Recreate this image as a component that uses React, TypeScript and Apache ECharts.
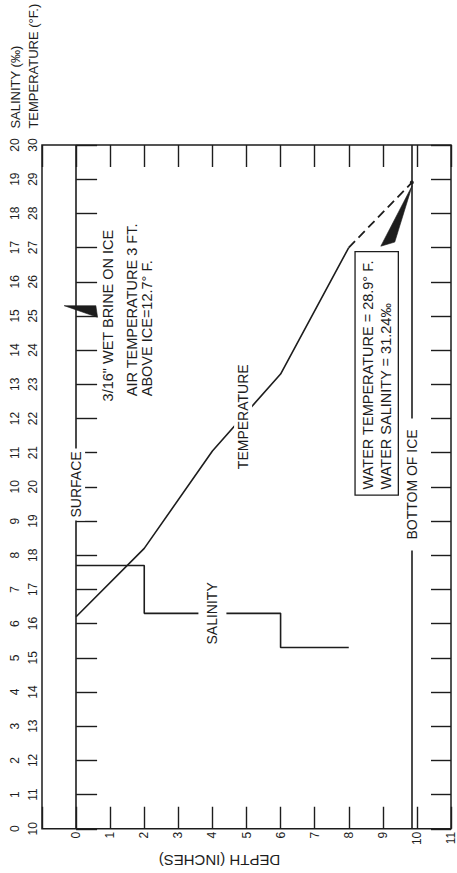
import React, { useEffect, useRef } from "react";
import * as echarts from "echarts";

// ---- data (depth in inches below the ice surface) ----
const temperatureDepths = [0, 2, 4, 6, 8];
const temperatureValues = [16.2, 18.2, 21.05, 23.3, 27.0]; // °F
const extrapolatedDepths = [8, 9.85];
const extrapolatedTemperatures = [27.0, 28.9]; // °F, dashed
const salinityDepths = [0, 2, 6, 8];
const salinityValues = [7.7, 6.3, 5.3, 5.3]; // ‰
const surfaceDepth = 0;
const iceBottomDepth = 9.85;

// axis ranges
const depthRange = [-1, 11];
const temperatureRange = [10, 30];
const salinityRange = [0, 20];
const salinityToTemperatureScale = 10; // both scales share the same grid lines

// ---- annotation placement (data units: [depth, temperature scale]) ----
const brineWedge = [
  [-0.35, 25.3],
  [0.58, 25.3],
  [0.63, 24.96],
];
const waterWedge = [
  [9.86, 28.81],
  [8.94, 27.04],
  [9.35, 27.16],
];

const INK = "#1d1d1d";
const FONT = "Liberation Sans, Arial, Helvetica, sans-serif";

type Note = {
  text: string;
  at: number[];
  align: "left" | "center";
  size: number;
  pad?: number[];
  bg?: boolean;
  box?: boolean;
  lineHeight?: number;
};

const notes: Note[] = [
  // axis titles (placed above the top of the value scales)
  { text: "TEMPERATURE (°F.)", at: [-1.25, 30.48], align: "left", size: 13 },
  { text: "SALINITY (‰)", at: [-1.77, 30.48], align: "left", size: 13 },
  // in-plot labels
  { text: "SURFACE", at: [surfaceDepth, 20.07], align: "center", size: 14, bg: true, pad: [2, 3] },
  { text: "BOTTOM OF ICE", at: [iceBottomDepth, 20.07], align: "center", size: 14, bg: true, pad: [2, 11] },
  { text: "SALINITY", at: [4.0, 6.3 + salinityToTemperatureScale], align: "center", size: 14, bg: true, pad: [7, 2] },
  { text: "TEMPERATURE", at: [4.9, 22.05], align: "center", size: 14, bg: true, pad: [2, 2] },
  { text: '3/16" WET BRINE ON ICE', at: [0.94, 22.5], align: "left", size: 14.5 },
  { text: "AIR TEMPERATURE 3 FT.\nABOVE ICE=12.7° F.", at: [1.86, 22.65], align: "left", size: 14.5, lineHeight: 15 },
  {
    text: "WATER TEMPERATURE = 28.9° F.\nWATER SALINITY = 31.24‰",
    at: [8.82, 19.78],
    align: "left",
    size: 14.5,
    box: true,
    pad: [3, 8, 3, 5],
    lineHeight: 18,
  },
];

const zip = (xs: number[], ys: number[]) => xs.map((x, i) => [x, ys[i]]);

export default function App() {
  const ref = useRef<HTMLDivElement>(null);

  useEffect(() => {
    if (!ref.current) return;
    const chart = echarts.init(ref.current, undefined, { renderer: "svg" });

    const tickStyle = { color: INK, width: 1.4 };

    const option: any = {
      animation: false,
      backgroundColor: "#ffffff",
      textStyle: { fontFamily: FONT, color: INK },
      grid: {
        left: 42,
        top: 145,
        width: 413,
        height: 689,
        show: true,
        borderColor: INK,
        borderWidth: 1.5,
        backgroundColor: "transparent",
        containLabel: false,
      },
      xAxis: [
        {
          type: "value",
          position: "bottom",
          min: depthRange[0],
          max: depthRange[1],
          interval: 1,
          axisLine: { show: false },
          axisTick: { show: true, inside: true, length: 22, lineStyle: tickStyle },
          splitLine: { show: false },
          axisLabel: {
            rotate: 90,
            margin: 3,
            fontSize: 12,
            color: INK,
            fontFamily: FONT,
            formatter: (v: number) => (v < 0 ? "" : String(v)),
          },
          name: "DEPTH (INCHES)",
          nameLocation: "middle",
          nameRotate: 180,
          nameGap: 17,
          nameTextStyle: { fontSize: 15, color: INK, fontFamily: FONT, padding: [0, 0, 0, 54] },
        },
        {
          type: "value",
          position: "top",
          min: depthRange[0],
          max: depthRange[1],
          interval: 1,
          axisLine: { show: false },
          axisTick: { show: true, inside: true, length: 22, lineStyle: tickStyle },
          splitLine: { show: false },
          axisLabel: { show: false },
        },
      ],
      yAxis: [
        {
          type: "value",
          position: "left",
          min: temperatureRange[0],
          max: temperatureRange[1],
          interval: 1,
          axisLine: { show: false },
          axisTick: { show: true, inside: true, length: 21, lineStyle: tickStyle },
          splitLine: { show: false },
          axisLabel: { show: false },
        },
        {
          type: "value",
          position: "left",
          offset: 0,
          min: temperatureRange[0],
          max: temperatureRange[1],
          interval: 1,
          axisLine: { show: false },
          axisTick: { show: false },
          splitLine: { show: false },
          axisLabel: { rotate: 90, margin: 3, fontSize: 12, color: INK, fontFamily: FONT },
        },
        {
          type: "value",
          position: "left",
          offset: 18,
          min: salinityRange[0],
          max: salinityRange[1],
          interval: 1,
          axisLine: { show: false },
          axisTick: { show: false },
          splitLine: { show: false },
          axisLabel: { rotate: 90, margin: 3, fontSize: 12, color: INK, fontFamily: FONT },
        },
        {
          type: "value",
          position: "right",
          min: temperatureRange[0],
          max: temperatureRange[1],
          interval: 1,
          axisLine: { show: false },
          axisTick: { show: true, inside: true, length: 20, lineStyle: tickStyle },
          splitLine: { show: false },
          axisLabel: { show: false },
        },
      ],
      series: [
        {
          name: "Temperature",
          type: "line",
          xAxisIndex: 0,
          yAxisIndex: 0,
          data: zip(temperatureDepths, temperatureValues),
          symbol: "none",
          lineStyle: { color: INK, width: 1.6 },
          z: 3,
          markLine: {
            silent: true,
            symbol: ["none", "none"],
            label: { show: false },
            lineStyle: { color: INK, width: 1.6, type: "solid" },
            emphasis: { disabled: true },
            data: [{ xAxis: surfaceDepth }, { xAxis: iceBottomDepth }],
          },
        },
        {
          name: "Temperature (extrapolated)",
          type: "line",
          xAxisIndex: 0,
          yAxisIndex: 0,
          data: zip(extrapolatedDepths, extrapolatedTemperatures).map((p, i) =>
            i === 0 ? { value: p, symbol: "none" } : { value: p, symbol: "circle", symbolSize: 4 }
          ),
          showSymbol: true,
          itemStyle: { color: INK },
          lineStyle: { color: INK, width: 1.8, type: [9, 5] },
          z: 3,
        },
        {
          name: "Salinity",
          type: "line",
          step: "end",
          xAxisIndex: 0,
          yAxisIndex: 2,
          data: zip(salinityDepths, salinityValues),
          symbol: "none",
          lineStyle: { color: INK, width: 1.6 },
          z: 3,
        },
        {
          name: "Annotations",
          type: "custom",
          xAxisIndex: 0,
          yAxisIndex: 0,
          clip: false,
          silent: true,
          z: 10,
          data: [[0, 20]],
          renderItem: (_params: any, api: any) => {
            const children: any[] = [];
            [brineWedge, waterWedge].forEach((w) => {
              children.push({
                type: "polygon",
                shape: { points: w.map((p) => api.coord(p)) },
                style: { fill: INK, stroke: INK, lineWidth: 0.6 },
              });
            });
            notes.forEach((n) => {
              const [x, y] = api.coord(n.at);
              const style: any = {
                text: n.text,
                fontSize: n.size,
                fontFamily: FONT,
                fill: INK,
                align: n.align,
                verticalAlign: "middle",
              };
              if (n.lineHeight) style.lineHeight = n.lineHeight;
              if (n.pad) style.padding = n.pad;
              if (n.bg || n.box) style.backgroundColor = "#ffffff";
              if (n.box) {
                style.borderColor = INK;
                style.borderWidth = 1.3;
              }
              children.push({ type: "text", x, y, rotation: Math.PI / 2, style });
            });
            return { type: "group", children };
          },
        },
      ],
    };

    chart.setOption(option);
    return () => chart.dispose();
  }, []);

  return (
    <div
      ref={ref}
      style={{ position: "absolute", left: 0, top: 0, width: 457, height: 873, background: "#ffffff" }}
    />
  );
}
